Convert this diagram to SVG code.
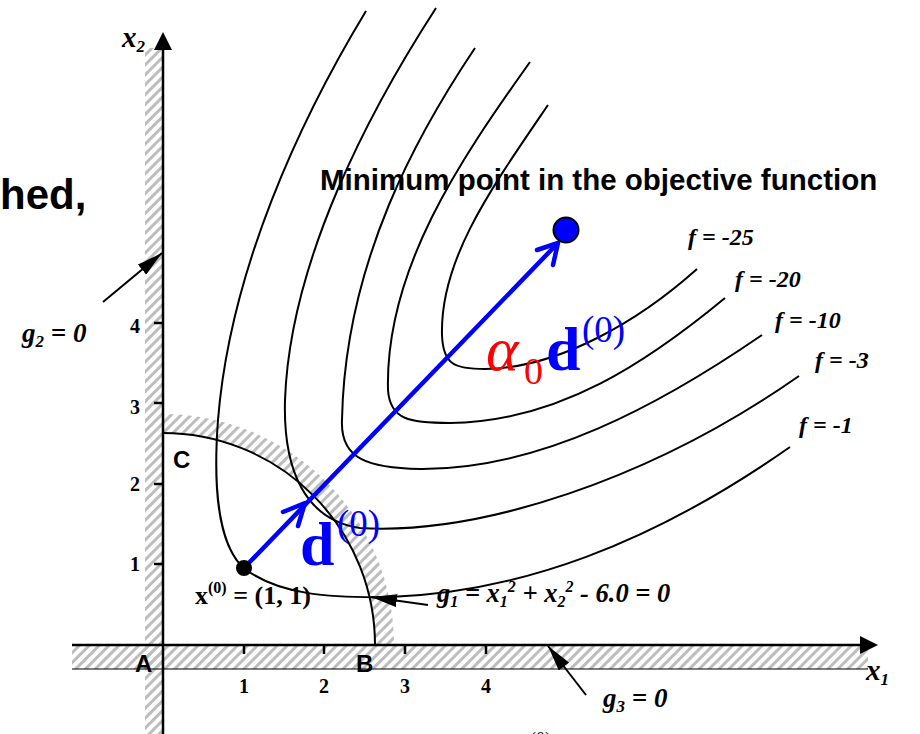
<svg xmlns="http://www.w3.org/2000/svg" width="920" height="734" viewBox="0 0 920 734">
<style>
.ax{stroke:#000;stroke-width:2.5;fill:none}
.tk{stroke:#000;stroke-width:2.5}
.ct{stroke:#000;stroke-width:2;fill:none}
.lead{stroke:#000;stroke-width:2;fill:none}
.blue{stroke:#0000ff;stroke-width:4.5;fill:none;stroke-linecap:round;stroke-linejoin:round}
.ts{font-family:"Liberation Serif","Times New Roman",serif;font-weight:bold}
.tbi{font-family:"Liberation Serif","Times New Roman",serif;font-weight:bold;font-style:italic}
.sans{font-family:"Liberation Sans",Arial,sans-serif;font-weight:bold}
</style>
<defs>
<pattern id="hatch" width="7" height="7" patternUnits="userSpaceOnUse" patternTransform="rotate(45)">
<rect x="0" y="0" width="3" height="7" fill="#bdbdbd"/>
</pattern>
<marker id="ah" viewBox="0 0 26 13" markerWidth="26" markerHeight="13" refX="26" refY="6.5" orient="auto" markerUnits="userSpaceOnUse">
<path d="M0,0 L26,6.5 L0,13 Z" fill="#000"/>
</marker>
</defs>
<rect width="920" height="734" fill="#fff"/>

<g id="constraints">
<rect x="145" y="48" width="18" height="686" fill="url(#hatch)"/>
<rect x="72" y="645" width="796" height="24" fill="url(#hatch)"/>
<path d="M163,433 A212,212 0 0 1 375,645 L394,645 A231,231 0 0 0 163,414 Z" fill="url(#hatch)"/>
<line x1="72" y1="669" x2="868" y2="669" stroke="#000" stroke-width="1.2"/>
<path d="M163,433 A212,212 0 0 1 375,645" class="ct"/>
</g>

<g id="axes">
<line x1="163" y1="48" x2="163" y2="734" class="ax"/>
<path d="M163,32 L154,50 L172,50 Z" fill="#000"/>
<line x1="72" y1="645" x2="862" y2="645" class="ax"/>
<path d="M878,645 L860,636 L860,654 Z" fill="#000"/>
<line x1="244" y1="645" x2="244" y2="654" class="tk"/>
<line x1="324" y1="645" x2="324" y2="654" class="tk"/>
<line x1="405" y1="645" x2="405" y2="654" class="tk"/>
<line x1="486" y1="645" x2="486" y2="654" class="tk"/>
<line x1="154" y1="564" x2="163" y2="564" class="tk"/>
<line x1="154" y1="484" x2="163" y2="484" class="tk"/>
<line x1="154" y1="403" x2="163" y2="403" class="tk"/>
<line x1="154" y1="323" x2="163" y2="323" class="tk"/>
</g>

<g id="contours">
<path id="c1" class="ct" d="M366,11 C300,120 230,270 218,420 C212,500 222,550 245,569 C280,595 330,598 390,597 C520,592 650,545 790,447"/>
<path id="c3" class="ct" d="M436,8 C370,110 290,260 285,400 C283,470 305,520 360,528 C480,535 650,480 799,376"/>
<path id="c10" class="ct" d="M475,48 C420,130 345,260 342,420 C340,460 370,468 420,469 C540,470 660,405 762,335"/>
<path id="c20" class="ct" d="M530,62 C460,160 385,270 388,390 C390,420 410,423 450,423 C560,422 650,360 725,298"/>
<path id="c25" class="ct" d="M548,105 C490,190 440,260 442,335 C443,365 455,369 485,369 C560,368 640,320 697,269"/>
</g>

<g id="connectors">
<line x1="103" y1="302" x2="162" y2="253" class="lead" marker-end="url(#ah)"/>
<line x1="428" y1="605" x2="371" y2="597" class="lead" marker-end="url(#ah)"/>
<line x1="586" y1="695" x2="548" y2="646" class="lead" marker-end="url(#ah)"/>
<line x1="244" y1="568" x2="556" y2="245" class="blue"/>
<polyline points="283,512 305,503 298,526" class="blue"/>
<polyline points="537,250 558,243 553,265" class="blue"/>
</g>

<g id="x0-point">
<circle cx="244" cy="568" r="8" fill="#000"/>
<text x="195" y="604" class="ts" font-size="26">x<tspan font-size="16" y="593">(0)</tspan><tspan y="604"> = (1, 1)</tspan></text>
</g>

<g id="min-point">
<circle cx="566" cy="230" r="12.5" fill="#0000ff" stroke="#000" stroke-width="2"/>
<text x="320" y="190" class="sans" font-size="29.5">Minimum point in the objective function</text>
</g>

<g id="step-labels">
<text x="300" y="565" font-family="Liberation Serif,serif" font-weight="bold" font-size="62" fill="#0000ff">d</text>
<text x="337" y="536" font-family="Liberation Serif,serif" font-size="37" fill="#0000ff">(0)</text>
<text x="486" y="370" font-family="Liberation Serif,serif" font-style="italic" font-size="62" fill="#ff0000">α</text>
<text x="524" y="384" font-family="Liberation Serif,serif" font-size="38" fill="#ff0000">0</text>
<text x="546" y="370" font-family="Liberation Serif,serif" font-weight="bold" font-size="62" fill="#0000ff">d</text>
<text x="582" y="342" font-family="Liberation Serif,serif" font-size="37" fill="#0000ff">(0)</text>
</g>

<g id="f-labels" class="tbi" font-size="24">
<text x="688" y="245">f = -25</text>
<text x="735" y="287">f = -20</text>
<text x="775" y="328">f = -10</text>
<text x="815" y="368">f = -3</text>
<text x="799" y="433">f = -1</text>
</g>

<g id="g-labels" class="tbi">
<text x="22" y="342" font-size="27">g<tspan font-size="17" dy="5">2</tspan><tspan dy="-5"> = 0</tspan></text>
<text x="437" y="602" font-size="26.5">g<tspan font-size="16" dy="5">1</tspan><tspan dy="-5"> = x</tspan><tspan font-size="16" dy="5">1</tspan><tspan font-size="16" dy="-15">2</tspan><tspan dy="10"> + x</tspan><tspan font-size="16" dy="5">2</tspan><tspan font-size="16" dy="-15">2</tspan><tspan dy="10"> - 6.0 = 0</tspan></text>
<text x="603" y="707" font-size="27">g<tspan font-size="17" dy="5">3</tspan><tspan dy="-5"> = 0</tspan></text>
<text x="122" y="47" font-size="29">x<tspan font-size="17" dy="5">2</tspan></text>
<text x="866" y="680" font-size="29">x<tspan font-size="17" dy="5">1</tspan></text>
</g>

<g id="tick-labels" class="ts" font-size="20" text-anchor="middle">
<text x="244" y="693">1</text>
<text x="324" y="693">2</text>
<text x="405" y="693">3</text>
<text x="486" y="693">4</text>
<text x="135" y="571">1</text>
<text x="135" y="491">2</text>
<text x="135" y="414">3</text>
<text x="135" y="333">4</text>
</g>

<g id="points" class="sans" font-size="24">
<text x="135" y="672">A</text>
<text x="356" y="672">B</text>
<text x="173" y="468">C</text>
</g>

<text x="0" y="209" class="sans" font-size="42">hed,</text>
<text x="530" y="745" font-family="Liberation Serif,serif" font-size="18">(0)</text>
</svg>
